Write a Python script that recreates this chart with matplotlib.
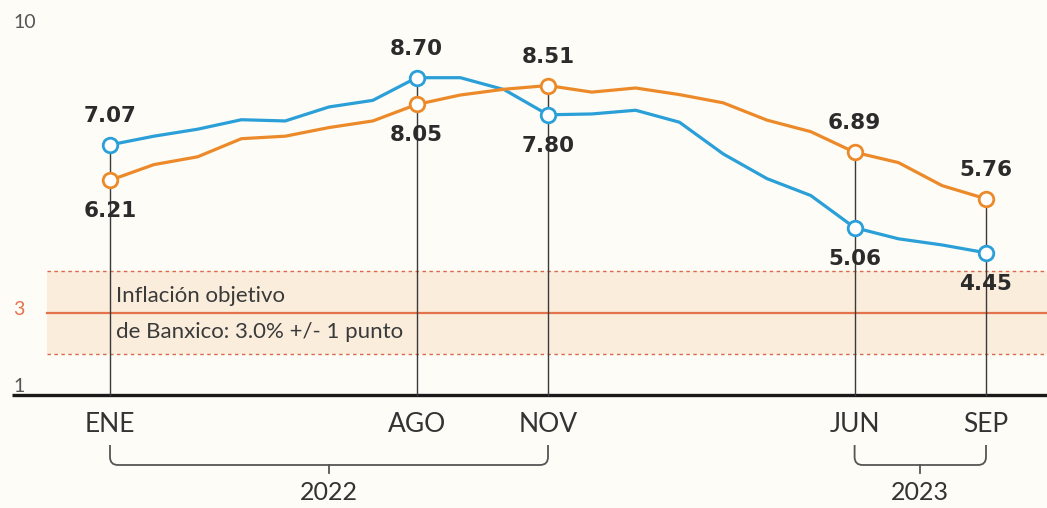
import matplotlib
matplotlib.use("Agg")
import matplotlib.pyplot as plt
from matplotlib.path import Path
from matplotlib.patches import PathPatch

# ---------------- data ----------------
months = list(range(21))  # Jan 2022 .. Sep 2023
general = [7.07, 7.28, 7.45, 7.68, 7.65, 7.99, 8.15, 8.70, 8.70, 8.41, 7.80, 7.82,
           7.91, 7.62, 6.85, 6.25, 5.84, 5.06, 4.79, 4.64, 4.45]
core = [6.21, 6.59, 6.78, 7.22, 7.28, 7.49, 7.65, 8.05, 8.28, 8.42, 8.51, 8.35,
        8.45, 8.29, 8.09, 7.67, 7.39, 6.89, 6.64, 6.08, 5.76]
key_months = [0, 7, 10, 17, 20]
key_labels = ["ENE", "AGO", "NOV", "JUN", "SEP"]
ytick_vals = [10, 3, 1]
ytick_labels = ["10", "3", "1"]
target = 3.0
target_band = (2.0, 4.0)
years = ["2022", "2023"]
year_spans = [(0, 10), (17, 20)]
note = ["Inflación objetivo", "de Banxico: 3.0% +/- 1 punto"]

BLUE = "#2a9fd8"
ORANGE = "#ec8a2a"
DARK = "#2b2b2b"
GRAY = "#555555"
RED = "#e2734a"

W, H = 1047, 508
fig = plt.figure(figsize=(W / 100, H / 100), dpi=100)
fig.patch.set_facecolor("#fdfcf6")
ax = fig.add_axes([0, 0, 1, 1])
ax.set_facecolor("#fdfcf6")
ax.axis("off")

# pixel mapping
x0px, xstep = 110.0, 43.8
y_ref_px, y_ref_v, ystep = 77.7, 8.70, 41.2
ax.set_xlim(-x0px / xstep, (W - x0px) / xstep)
ax.set_ylim(y_ref_v - (H - y_ref_px) / ystep, y_ref_v + y_ref_px / ystep)


def px2x(p):
    return (p - x0px) / xstep


def py2v(p):
    return y_ref_v - (p - y_ref_px) / ystep


xmax = (W - x0px) / xstep

# target band
ax.fill_between([px2x(47), xmax], target_band[0], target_band[1],
                color="#f8e4cc", alpha=0.6, lw=0, zorder=0)
ax.plot([px2x(47), xmax], [target, target], color=RED, lw=1.6, zorder=1)
for b in target_band:
    ax.plot([px2x(47), xmax], [b, b], color="#d9694a", lw=1.0,
            ls=(0, (2.5, 2.5)), zorder=1)

# baseline
ax.plot([px2x(12), xmax], [1, 1], color="#1a1a1a", lw=2.4, zorder=2,
        solid_capstyle="butt")

# vertical guide lines
for m in key_months:
    top = max(general[m], core[m])
    ax.plot([m, m], [1, top], color="#3a3a3a", lw=1.0, zorder=2)

# series
ax.plot(months, general, color=BLUE, lw=2.3, zorder=3, solid_joinstyle="round")
ax.plot(months, core, color=ORANGE, lw=2.3, zorder=3, solid_joinstyle="round")
for m in key_months:
    ax.plot(m, general[m], "o", ms=10.5, mfc="white", mec=BLUE, mew=2.0, zorder=4)
    ax.plot(m, core[m], "o", ms=10.5, mfc="white", mec=ORANGE, mew=2.0, zorder=4)

# value labels
for m in key_months:
    g, c = general[m], core[m]
    for v, other in ((g, c), (c, g)):
        above = v >= other
        off = 29 if above else -31
        ax.annotate(f"{v:.2f}", (m, v), xytext=(0, off), textcoords="offset pixels",
                    ha="center", va="center", fontsize=15.5, fontweight="bold",
                    color=DARK, family="DejaVu Sans", zorder=5)

# y tick labels (baseline offsets in pixels)
tick_offsets = {10: -4, 3: -2, 1: 3}
for v, lab in zip(ytick_vals, ytick_labels):
    col = RED if v == target else "#555555"
    ax.annotate(lab, (px2x(13), v), xytext=(0, tick_offsets[v]),
                textcoords="offset pixels", ha="left", va="baseline",
                fontsize=14, color=col, family="Lato")

# note
ax.text(px2x(116), py2v(296), note[0], ha="left", va="center", fontsize=16,
        color="#3a3a3a", family="Lato")
ax.text(px2x(116), py2v(332), note[1], ha="left", va="center", fontsize=16,
        color="#3a3a3a", family="Lato")

# month labels
for m, lab in zip(key_months, key_labels):
    ax.text(m, py2v(425), lab, ha="center", va="center", fontsize=19,
            color="#333333", family="Lato")

# year brackets
ytop, ybot, ytick = py2v(445), py2v(465), py2v(473)
dx, dy = 8 / xstep, 8 / ystep
for (a, b), yr in zip(year_spans, years):
    verts = [(a, ytop), (a, ybot + dy), (a, ybot), (a + dx, ybot),
             (b - dx, ybot), (b, ybot), (b, ybot + dy), (b, ytop)]
    codes = [Path.MOVETO, Path.LINETO, Path.CURVE3, Path.CURVE3,
             Path.LINETO, Path.CURVE3, Path.CURVE3, Path.LINETO]
    ax.add_patch(PathPatch(Path(verts, codes), fc="none", ec=GRAY, lw=1.3))
    mid = (a + b) / 2
    ax.plot([mid, mid], [ybot, ytick], color=GRAY, lw=1.3)
    ax.text(mid, py2v(492), yr, ha="center", va="center", fontsize=18,
            color="#333333", family="Lato")

fig.savefig("out.png", dpi=100, facecolor=fig.get_facecolor())
